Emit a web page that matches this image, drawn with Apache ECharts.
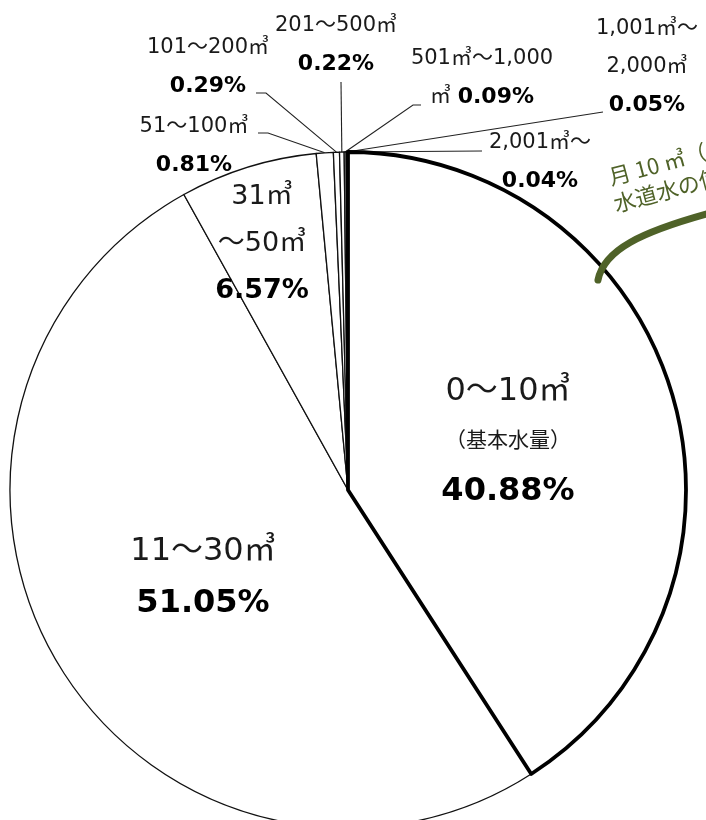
<!DOCTYPE html>
<html><head><meta charset="utf-8">
<script src="https://cdn.jsdelivr.net/npm/echarts@6/dist/echarts.min.js"></script>
<style>html,body{margin:0;padding:0;background:#fff}#c{width:706px;height:820px}</style>
</head><body><div id="c"></div>
<script>
// ---- data ----
const categories = ['0～10㎥（基本水量）','11～30㎥','31～50㎥','51～100㎥','101～200㎥','201～500㎥','501㎥～1,000㎥','1,001㎥～2,000㎥','2,001㎥～'];
const shares = [40.88, 51.05, 6.57, 0.81, 0.29, 0.22, 0.09, 0.05, 0.04];
const nameLines = [['0～10㎥','（基本水量）'],['11～30㎥'],['31㎥','～50㎥'],['51～100㎥'],['101～200㎥'],['201～500㎥'],['501㎥～1,000','㎥'],['1,001㎥～','2,000㎥'],['2,001㎥～']];

// ---- presentation ----
const FONT = "'DejaVu Sans','Noto Sans CJK JP',sans-serif";
const TXT = '#1a1a1a';
const styleSet = [
  {n:['L','sub'], p:'Lb'}, {n:['L'], p:'Lb'}, {n:['M','M'], p:'Mb'},
  {n:['S'], p:'Sb'}, {n:['S'], p:'Sb'}, {n:['S'], p:'Sb'},
  {n:['S','S'], p:'Sb', inline:true}, {n:['S','S'], p:'Sb'}, {n:['S'], p:'Sb'}
];
const labelSpots = [[508,442],[203,578],[262,244],[194,146],[208,67],[336,45],[482,78],[647,67],[540,162]];
const elbows = [null,null,null,[[268,133],[258,133]],[[266,93],[256,93]],[[341,82]],[[413,105],[421,105]],[[603,112]],[[482,151]]];

function fmt(i){
  const st = styleSet[i];
  const pct = shares[i].toFixed(2) + '%';
  const lines = nameLines[i].map((t,k)=>'{'+st.n[k]+'|'+t+'}');
  if (st.inline) lines[lines.length-1] += '{'+st.n[0]+'| }{'+st.p+'|'+pct+'}';
  else lines.push('{'+st.p+'|'+pct+'}');
  return lines.join('\n');
}

const rich = {
  L:{fontFamily:FONT,fontSize:32,color:TXT,lineHeight:52},
  sub:{fontFamily:FONT,fontSize:21,color:TXT,lineHeight:48},
  Lb:{fontFamily:FONT,fontSize:32,fontWeight:'bold',color:'#000',lineHeight:52},
  M:{fontFamily:FONT,fontSize:27,color:TXT,lineHeight:47},
  Mb:{fontFamily:FONT,fontSize:27,fontWeight:'bold',color:'#000',lineHeight:47},
  S:{fontFamily:FONT,fontSize:21,color:TXT,lineHeight:38},
  Sb:{fontFamily:FONT,fontSize:22,fontWeight:'bold',color:'#000',lineHeight:38}
};

const pieData = categories.map((c,i)=>{
  const d = {name:c, value:shares[i]};
  if (i < 3) { d.label = {position:'inside'}; d.labelLine = {show:false}; }
  return d;
});
const overlayData = categories.map((c,i)=>({
  name:c, value:shares[i],
  itemStyle: i===0 ? {color:'rgba(0,0,0,0)', borderColor:'#000', borderWidth:3.8} : {color:'rgba(0,0,0,0)', borderWidth:0}
}));

const chart = echarts.init(document.getElementById('c'), null, {renderer:'canvas'});
chart.setOption({
  animation:false,
  backgroundColor:'#fff',
  series:[
    {
      type:'pie', center:[348,490], radius:338, startAngle:90, clockwise:true,
      avoidLabelOverlap:false, silent:true,
      itemStyle:{color:'#fff', borderColor:'#111', borderWidth:1.3},
      label:{show:true, position:'outside', formatter:p=>fmt(p.dataIndex), rich:rich, color:TXT},
      labelLine:{show:true, length:10, length2:10, lineStyle:{color:'#222', width:1.1}},
      labelLayout:function(p){
        const i = p.dataIndex, s = labelSpots[i];
        const r = {x:s[0], y:s[1], align:'center', verticalAlign:'middle'};
        if (elbows[i] && p.labelLinePoints) r.labelLinePoints = [p.labelLinePoints[0]].concat(elbows[i]);
        return r;
      },
      data:pieData, z:2
    },
    {
      type:'pie', center:[348,490], radius:338, startAngle:90, clockwise:true,
      silent:true, label:{show:false}, labelLine:{show:false},
      data:overlayData, z:3
    }
  ],
  graphic:[
    {type:'bezierCurve', shape:{x1:598,y1:280,cpx1:604,cpy1:250,cpx2:640,cpy2:232,x2:714,y2:212},
     style:{stroke:'#4f6228', lineWidth:7, lineCap:'round', fill:null}, z:10},
    {type:'text', x:612, y:188, rotation:0.26,
     style:{text:'月 10 ㎥（基本水量）まで', fill:'#4f6228', font:"22px 'Noto Sans CJK JP'", textAlign:'left', textVerticalAlign:'bottom'}, z:10},
    {type:'text', x:617, y:215, rotation:0.26,
     style:{text:'水道水の使用料金', fill:'#4f6228', font:"22px 'Noto Sans CJK JP'", textAlign:'left', textVerticalAlign:'bottom'}, z:10}
  ]
});
</script></body></html>
